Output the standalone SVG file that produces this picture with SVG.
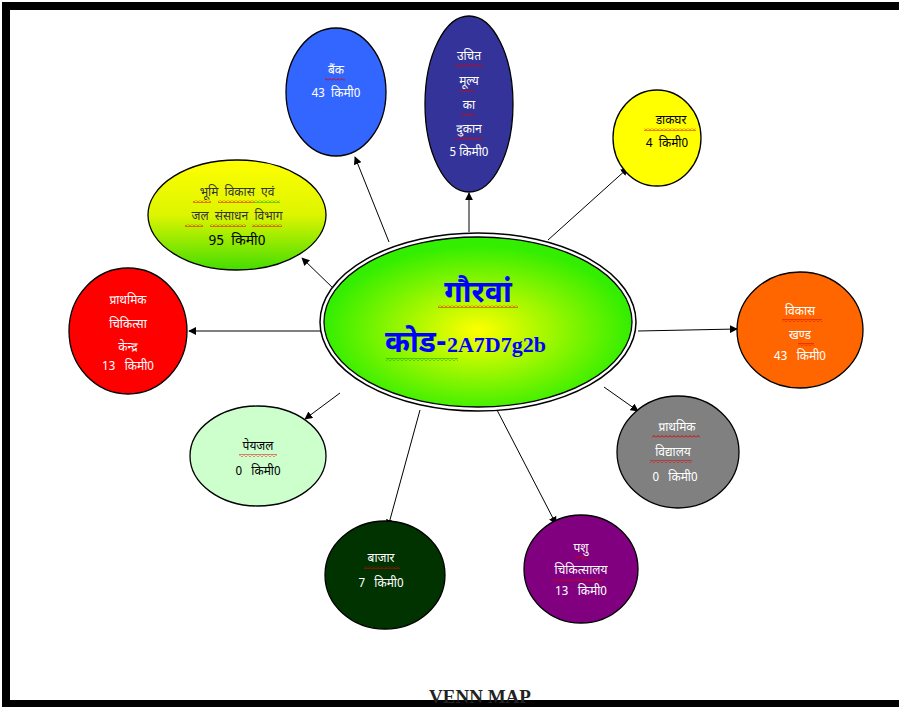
<svg xmlns="http://www.w3.org/2000/svg" width="899" height="707" viewBox="0 0 899 707">
<defs>
<radialGradient id="gc" cx="0.5" cy="0.55" r="0.5">
<stop offset="0" stop-color="#ffff00"/>
<stop offset="1" stop-color="#33ee00"/>
</radialGradient>
<linearGradient id="gb" x1="0" y1="0" x2="0" y2="1">
<stop offset="0" stop-color="#ffff00"/>
<stop offset="0.5" stop-color="#ddf500"/>
<stop offset="1" stop-color="#44dd00"/>
</linearGradient>
<marker id="ah" viewBox="0 0 10 10" refX="9" refY="5" markerWidth="8" markerHeight="8" orient="auto" markerUnits="userSpaceOnUse">
<path d="M0,0 L10,5 L0,10 z" fill="#000"/>
</marker>
<pattern id="sqr" patternUnits="userSpaceOnUse" width="4" height="3">
<polyline points="0,2.5 2,0.5 4,2.5" fill="none" stroke="#e00000" stroke-width="1"/>
</pattern>
<pattern id="sqg" patternUnits="userSpaceOnUse" width="4" height="3">
<polyline points="0,2.5 2,0.5 4,2.5" fill="none" stroke="#00a000" stroke-width="1"/>
</pattern>
</defs>
<style>
.n{stroke:#000;stroke-width:1.3}
.t{font-family:"Noto Sans Devanagari","Lohit Devanagari","Noto Sans","FreeSans",sans-serif;font-size:12px;text-anchor:middle;white-space:pre}
.w{fill:#fff}
.k{fill:#000}
.c line{stroke:#000;stroke-width:1;marker-end:url(#ah)}
.sr{fill:url(#sqr)}
.sg{fill:url(#sqg)}
</style>
<rect x="0" y="0" width="899" height="707" fill="#fff"/>
<g id="frame">
<rect x="2" y="2" width="897" height="8" fill="#000"/>
<rect x="2" y="2" width="8" height="705" fill="#000"/>
<rect x="2" y="700" width="897" height="7" fill="#000"/>
</g>
<g class="c" id="connectors">
<line x1="389" y1="242" x2="355" y2="157"/>
<line x1="469" y1="232" x2="469" y2="193"/>
<line x1="548" y1="240" x2="628" y2="168"/>
<line x1="335" y1="290" x2="302" y2="258"/>
<line x1="322" y1="331" x2="189" y2="331"/>
<line x1="638" y1="331" x2="737" y2="329"/>
<line x1="604" y1="387" x2="638" y2="411"/>
<line x1="340" y1="393" x2="305" y2="419"/>
<line x1="420" y1="410" x2="388" y2="527"/>
<line x1="497" y1="410" x2="556" y2="524"/>
</g>
<g id="center">
<ellipse cx="478" cy="322" rx="158" ry="89" fill="#fff" stroke="#000" stroke-width="1.5"/>
<ellipse cx="478" cy="322" rx="154" ry="85" fill="url(#gc)" stroke="#000" stroke-width="1.3"/>
<text x="478" y="302" class="t" style="font-size:30px;font-weight:bold" fill="#0000ff">गौरवां</text>
<rect x="438" y="305" width="80" height="3" class="sr"/>
<text x="385" y="352" style="font-family:'Noto Sans Devanagari','Lohit Devanagari','Noto Sans',sans-serif;font-size:30px;font-weight:bold" fill="#0000ff">कोड-<tspan style="font-family:'Liberation Serif',serif;font-size:22px">2A7D7g2b</tspan></text>
<rect x="386" y="358" width="72" height="3" class="sg"/>
</g>
<g id="bank">
<ellipse cx="336" cy="92" rx="50" ry="64" fill="#3366ff" class="n"/>
<text x="336" y="74" class="t w">बैंक</text>
<rect x="325" y="78" width="20" height="3" class="sr"/>
<text x="336" y="97" class="t w">43  किमी0</text>
</g>
<g id="uchit">
<ellipse cx="469" cy="104" rx="44" ry="88" fill="#333399" class="n"/>
<text x="469" y="60" class="t w">उचित</text>
<rect x="455" y="64" width="28" height="3" class="sr"/>
<text x="469" y="85" class="t w">मूल्य</text>
<rect x="459" y="89" width="16" height="3" class="sr"/>
<text x="469" y="109" class="t w">का</text>
<rect x="461" y="113" width="14" height="3" class="sr"/>
<text x="469" y="133" class="t w">दुकान</text>
<rect x="455" y="137" width="28" height="3" class="sr"/>
<text x="469" y="156" class="t w">5 किमी0</text>
</g>
<g id="dakghar">
<ellipse cx="657" cy="138" rx="44" ry="48" fill="#ffff00" class="n"/>
<text x="671" y="124" class="t k">डाकघर</text>
<rect x="644" y="128" width="52" height="3" class="sr"/>
<text x="667" y="147" class="t k">4  किमी0</text>
</g>
<g id="bhumi">
<ellipse cx="237" cy="215" rx="89" ry="55" fill="url(#gb)" class="n"/>
<text x="237" y="196" class="t k" style="fill:#333">भूमि  विकास  एवं</text>
<rect x="193" y="200" width="18" height="3" class="sr"/>
<rect x="218" y="200" width="36" height="3" class="sr"/>
<rect x="254" y="200" width="26" height="3" class="sg"/>
<text x="237" y="220" class="t k" style="fill:#333">जल  संसाधन  विभाग</text>
<rect x="185" y="224" width="18" height="3" class="sr"/>
<rect x="210" y="224" width="36" height="3" class="sr"/>
<rect x="252" y="224" width="30" height="3" class="sr"/>
<text x="237" y="245" class="t k" style="font-size:14px">95  किमी0</text>
</g>
<g id="chikitsa">
<ellipse cx="128" cy="331" rx="59" ry="63" fill="#ff0000" class="n"/>
<text x="128" y="304" class="t w">प्राथमिक</text>
<text x="128" y="328" class="t w">चिकित्सा</text>
<text x="128" y="351" class="t w">केन्द्र</text>
<text x="128" y="370" class="t w">13   किमी0</text>
</g>
<g id="vikas">
<ellipse cx="800" cy="330" rx="63" ry="58" fill="#ff6600" class="n"/>
<text x="800" y="315" class="t w">विकास</text>
<rect x="782" y="319" width="40" height="3" class="sr"/>
<text x="800" y="339" class="t w">खण्ड</text>
<rect x="798" y="343" width="16" height="3" class="sr"/>
<text x="800" y="360" class="t w">43   किमी0</text>
</g>
<g id="vidyalay">
<ellipse cx="678" cy="452" rx="61" ry="56" fill="#808080" class="n"/>
<text x="677" y="431" class="t w">प्राथमिक</text>
<rect x="652" y="435" width="48" height="3" class="sr"/>
<text x="673" y="456" class="t w">विद्यालय</text>
<rect x="650" y="460" width="42" height="3" class="sr"/>
<text x="675" y="481" class="t w">0   किमी0</text>
</g>
<g id="peyjal">
<ellipse cx="258" cy="456" rx="68" ry="50" fill="#ccffcc" class="n"/>
<text x="258" y="450" class="t k">पेयजल</text>
<rect x="239" y="454" width="38" height="3" class="sr"/>
<text x="258" y="475" class="t k">0   किमी0</text>
</g>
<g id="bajar">
<ellipse cx="385" cy="575" rx="60" ry="54" fill="#003300" class="n"/>
<text x="381" y="562" class="t w">बाजार</text>
<rect x="364" y="566" width="36" height="3" class="sr"/>
<text x="381" y="587" class="t w">7   किमी0</text>
</g>
<g id="pashu">
<ellipse cx="581" cy="569" rx="57" ry="54" fill="#800080" class="n"/>
<text x="581" y="552" class="t w">पशु</text>
<rect x="575" y="556" width="12" height="3" class="sr"/>
<text x="581" y="574" class="t w">चिकित्सालय</text>
<rect x="553" y="578" width="50" height="3" class="sr"/>
<text x="581" y="595" class="t w">13   किमी0</text>
</g>
<text x="480" y="703" style="font-family:'Liberation Serif',serif;font-size:19px;font-weight:bold;text-anchor:middle" fill="#222">VENN MAP</text>
</svg>
